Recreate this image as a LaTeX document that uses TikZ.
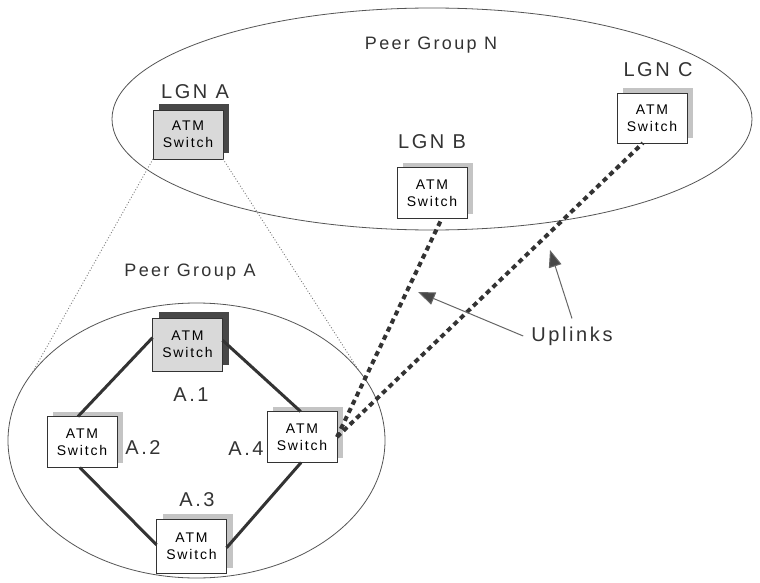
\documentclass[tikz,border=0pt]{standalone}
\usepackage{fontspec}
\setmainfont{Liberation Sans}[LetterSpace=13]
\usetikzlibrary{arrows.meta,shadows,shapes.geometric}
\definecolor{ink}{HTML}{333333}
\definecolor{rim}{HTML}{555555}
\definecolor{darksh}{HTML}{474747}
\definecolor{lightsh}{HTML}{C4C4C4}
\definecolor{frontgray}{HTML}{D9D9D9}
\begin{document}
\begin{tikzpicture}[x=1pt,y=-1pt,
  groupring/.style={draw=rim, line width=0.8pt, ellipse, inner sep=0pt, outer sep=0pt},
  switchbox/.style={draw=ink, line width=0.8pt, fill=white, minimum width=70pt, minimum height=51pt,
    align=center, inner sep=0pt, outer sep=0pt, font=\fontsize{14}{17}\selectfont},
  darkbox/.style={switchbox, fill=frontgray,
    copy shadow={shadow xshift=6pt, shadow yshift=6pt, fill=darksh, draw=none}},
  lightbox/.style={switchbox,
    copy shadow={shadow xshift=6pt, shadow yshift=5pt, fill=lightsh, draw=none}},
  biglabel/.style={font=\fontsize{20}{24}\selectfont, text=ink},
  grouplabel/.style={font=\fontsize{18}{22}\selectfont, text=ink},
  link/.style={draw=ink, line width=3pt},
  uplink/.style={draw=ink, line width=4pt, dash pattern=on 5pt off 4pt},
  guide/.style={draw=rim!80, line width=0.9pt, dotted},
  pointer/.style={draw=black!60, line width=1pt, -{Triangle[length=17pt,width=13pt,fill=darksh]}}
]
\useasboundingbox (0,0) rectangle (760,583);
\fill[white] (0,0) rectangle (760,583);

% group ellipses
\node[groupring, minimum width=640pt, minimum height=222pt] (pgn) at (432,119) {};
\node[groupring, minimum width=377pt, minimum height=275pt] (pga) at (196.5,440.5) {};

% group labels
\node[grouplabel] (pgnlabel) at (431,45) {Peer Group N};
\node[grouplabel] (pgalabel) at (190,272) {Peer Group A};

% logical group nodes
\node[darkbox, minimum height=49pt] (lgna) at (188,134.5) {ATM\\Switch};
\node[lightbox] (lgnb) at (432,193) {ATM\\Switch};
\node[lightbox, minimum height=50pt] (lgnc) at (652,118) {ATM\\Switch};
\node[biglabel] (lgnalabel) at (195,92) {LGN A};
\node[biglabel] (lgnblabel) at (432,142) {LGN B};
\node[biglabel] (lgnclabel) at (658,70) {LGN C};

% dotted guides from LGN A to Peer Group A
\draw[guide] (lgna.south west) -- (pga.158);
\draw[guide] (lgna.south east) -- (pga.23);

% physical switches
\node[darkbox, minimum height=53pt] (a1) at (187.5,344.5) {ATM\\Switch};
\node[lightbox] (a2) at (82,442) {ATM\\Switch};
\node[lightbox] (a4) at (302,437) {ATM\\Switch};
\node[lightbox, minimum height=54pt] (a3) at (191.5,546) {ATM\\Switch};
\node[biglabel] (a1label) at (191,395) {A.1};
\node[biglabel] (a2label) at (143,448) {A.2};
\node[biglabel] (a4label) at (246,449) {A.4};
\node[biglabel] (a3label) at (197,500) {A.3};

% links
\draw[link] (a1.169) -- (a2.99);
\draw[link] (a1.7) -- (a4.93);
\draw[link] (a2.265) -- (a3.178);
\draw[link] (a3.357) -- (a4.268);

% uplinks
\draw[uplink] (a4.east) -- (lgnb.291);
\draw[uplink] (a4.east) -- (lgnc.250);

% pointers
\node[biglabel, inner sep=8pt] (up) at (572,336) {Uplinks};
\coordinate (tipb) at (418,292);
\coordinate (tipc) at (550,250);
\draw[pointer] (up.west) -- (tipb);
\draw[pointer] (up.north) -- (tipc);
\end{tikzpicture}
\end{document}
